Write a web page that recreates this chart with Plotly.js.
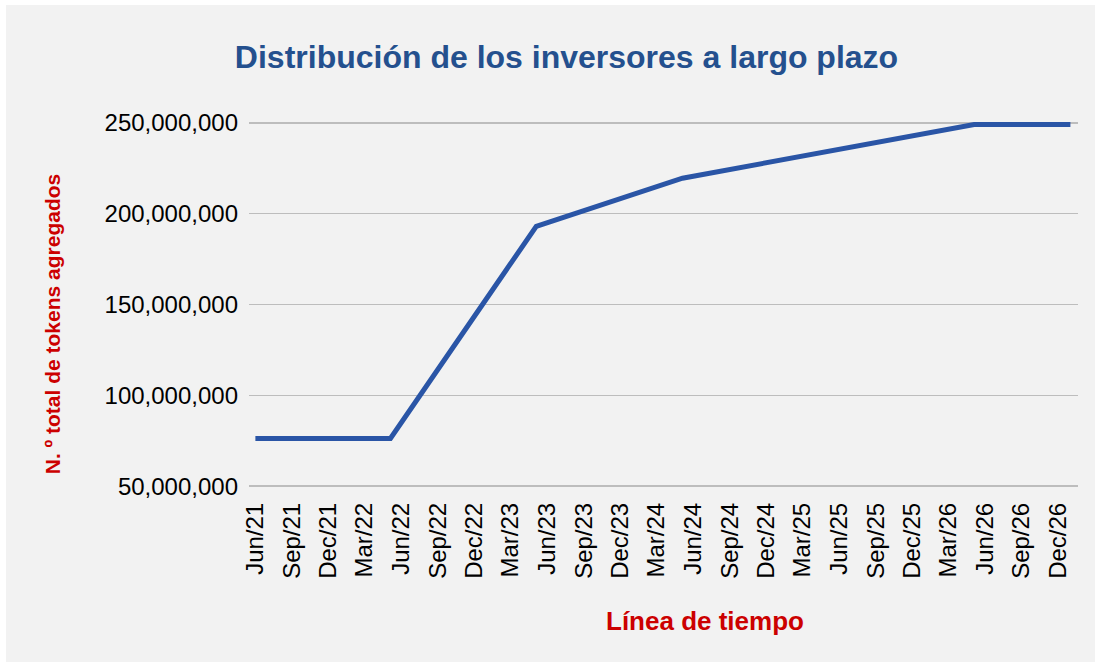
<!DOCTYPE html>
<html>
<head>
<meta charset="utf-8">
<script src="https://cdn.plot.ly/plotly-3.0.1.min.js"></script>
<style>
  html, body { margin: 0; padding: 0; background: #ffffff; width: 1101px; height: 667px; overflow: hidden; }
  #chart { position: absolute; left: 6px; top: 5px; width: 1089px; height: 657px; }
</style>
</head>
<body>
<div id="chart"></div>
<script>
// Quarterly tick labels on the time axis
const quarterLabels = ['Jun/21','Sep/21','Dec/21','Mar/22','Jun/22','Sep/22','Dec/22','Mar/23',
  'Jun/23','Sep/23','Dec/23','Mar/24','Jun/24','Sep/24','Dec/24','Mar/25','Jun/25','Sep/25',
  'Dec/25','Mar/26','Jun/26','Sep/26','Dec/26'];
const quarterDates = ['2021-06-01','2021-09-01','2021-12-01','2022-03-01','2022-06-01','2022-09-01',
  '2022-12-01','2023-03-01','2023-06-01','2023-09-01','2023-12-01','2024-03-01','2024-06-01',
  '2024-09-01','2024-12-01','2025-03-01','2025-06-01','2025-09-01','2025-12-01','2026-03-01',
  '2026-06-01','2026-09-01','2026-12-01'];

// Series (break points of the cumulative line)
const pointDates = ['2021-06-01','2022-05-05','2023-05-05','2024-05-05','2026-05-05','2027-01-01'];
const tokens = [76300000, 76300000, 193000000, 219500000, 249000000, 249000000];

// Y ticks
const yTicks = [50000000, 100000000, 150000000, 200000000, 250000000];

const FONT = '"Liberation Sans", Arial, Helvetica, sans-serif';
const RED = '#cc0000';

const trace = {
  type: 'scatter',
  mode: 'lines',
  x: pointDates,
  y: tokens,
  line: { color: '#2a55a6', width: 5, shape: 'linear' },
  hoverinfo: 'skip',
  showlegend: false,
  cliponaxis: false
};

const layout = {
  width: 1089,
  height: 657,
  paper_bgcolor: '#f2f2f2',
  plot_bgcolor: '#f2f2f2',
  margin: { l: 243, r: 17, t: 115, b: 173, pad: 0 },
  title: {
    text: '<b>Distribución de los inversores a largo plazo</b>',
    font: { family: FONT, size: 32, color: '#24508e' },
    x: 0.5147, xref: 'container', xanchor: 'center',
    y: 0.9209, yref: 'container', yanchor: 'middle'
  },
  xaxis: {
    type: 'date',
    range: ['2021-05-16', '2027-01-20'],
    tickmode: 'array',
    tickvals: quarterDates,
    ticktext: quarterLabels,
    tickangle: -90,
    tickfont: { family: FONT, size: 24, color: '#000000' },
    ticks: '',
    ticklabelstandoff: 8,
    showgrid: false,
    showline: false,
    zeroline: false
  },
  yaxis: {
    range: [48500000, 251500000],
    tickmode: 'array',
    tickvals: yTicks,
    tickformat: ',d',
    tickfont: { family: FONT, size: 24, color: '#000000' },
    ticks: '',
    ticklabelstandoff: 10,
    showgrid: true,
    gridcolor: '#bdbdbd',
    gridwidth: 1.6,
    showline: false,
    zeroline: false
  },
  annotations: [
    {
      text: '<b>N. º total de tokens agregados</b>',
      xref: 'paper', yref: 'paper',
      x: -0.2370, y: 0.4478,
      xanchor: 'center', yanchor: 'middle',
      textangle: -90,
      showarrow: false,
      font: { family: FONT, size: 21, color: RED }
    },
    {
      text: '<b>Línea de tiempo</b>',
      xref: 'paper', yref: 'paper',
      x: 0.550, y: -0.3587,
      xanchor: 'center', yanchor: 'middle',
      showarrow: false,
      font: { family: FONT, size: 26, color: RED }
    }
  ]
};

Plotly.newPlot('chart', [trace], layout, { displayModeBar: false, staticPlot: true });
</script>
</body>
</html>
